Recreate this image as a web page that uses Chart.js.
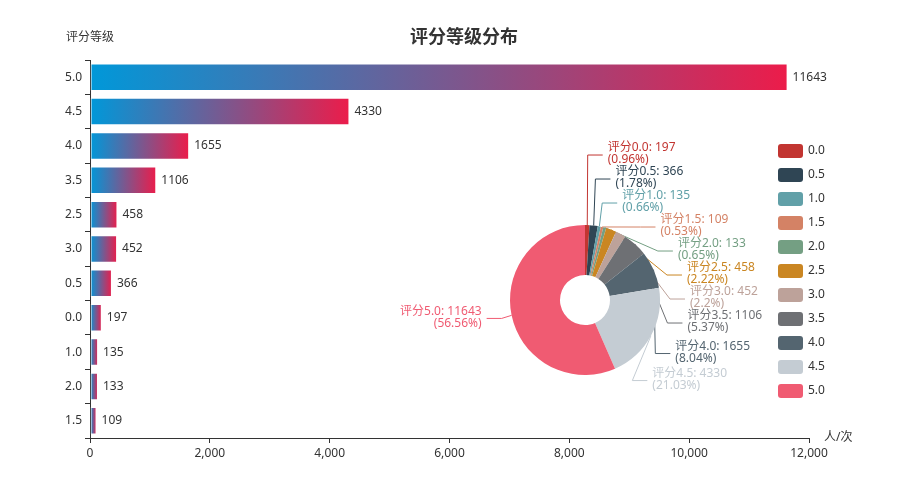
<!DOCTYPE html>
<html>
<head>
<meta charset="utf-8">
<script src="https://cdn.jsdelivr.net/npm/chart.js@4/dist/chart.umd.min.js"></script>
<style>
  html, body { margin: 0; padding: 0; background: #fff; }
  #wrap { position: relative; width: 900px; height: 500px; }
  #wrap canvas { position: absolute; left: 0; top: 0; }
</style>
</head>
<body>
<div id="wrap">
  <canvas id="barChart" width="900" height="500"></canvas>
  <canvas id="pieChart" width="900" height="500"></canvas>
</div>
<script>
// bar chart: rating levels sorted by count
var barLabels = ['5.0', '4.5', '4.0', '3.5', '2.5', '3.0', '0.5', '0.0', '1.0', '2.0', '1.5'];
var barCounts = [11643, 4330, 1655, 1106, 458, 452, 366, 197, 135, 133, 109];
// pie chart: same counts in rating order
var pieLabels = ['0.0', '0.5', '1.0', '1.5', '2.0', '2.5', '3.0', '3.5', '4.0', '4.5', '5.0'];
var pieCounts = [197, 366, 135, 109, 133, 458, 452, 1106, 1655, 4330, 11643];
var xTicks = [0, 2000, 4000, 6000, 8000, 10000, 12000];

var titleText = '评分等级分布';
var yAxisName = '评分等级';
var xAxisName = '人/次';

var pieColors = ['#c23531', '#2f4554', '#61a0a8', '#d48265', '#749f83', '#ca8622',
                 '#bda29a', '#6e7074', '#546570', '#c4ccd3', '#f05b72'];
var FONT = '"Noto Sans", "Noto Sans CJK SC", sans-serif';

Chart.defaults.font.family = FONT;
Chart.defaults.font.size = 12;
Chart.defaults.color = '#333';

// percentages that add up to 100 (largest remainder, 2 decimals)
function percents(values, precision) {
  var sum = values.reduce(function (a, b) { return a + b; }, 0);
  var digits = Math.pow(10, precision);
  var target = 100 * digits;
  var votes = values.map(function (v) { return v / sum * target; });
  var seats = votes.map(function (v) { return Math.floor(v); });
  var rem = votes.map(function (v, i) { return v - seats[i]; });
  var current = seats.reduce(function (a, b) { return a + b; }, 0);
  while (current < target) {
    var max = -1, idx = -1;
    rem.forEach(function (r, i) { if (r > max) { max = r; idx = i; } });
    seats[idx]++;
    rem[idx] = 0;
    current++;
  }
  return seats.map(function (s) { return s / digits; });
}
var piePercents = percents(pieCounts, 2);

// each bar gets its own blue -> red gradient
function barGradient(context) {
  var chart = context.chart;
  if (!chart.chartArea || context.type !== 'data') return '#0098d9';
  var x = chart.scales.x;
  var x0 = x.getPixelForValue(0);
  var x1 = x.getPixelForValue(context.raw);
  var g = chart.ctx.createLinearGradient(x0, 0, Math.max(x1, x0 + 1), 0);
  g.addColorStop(0, '#0098d9');
  g.addColorStop(1, '#ec1c4a');
  return g;
}

var barExtras = {
  id: 'barExtras',
  afterDatasetsDraw: function (chart) {
    var ctx = chart.ctx;
    var meta = chart.getDatasetMeta(0);
    ctx.save();
    ctx.font = '12px ' + FONT;
    ctx.fillStyle = '#333';
    ctx.textAlign = 'left';
    ctx.textBaseline = 'middle';
    meta.data.forEach(function (bar, i) {
      ctx.fillText(String(barCounts[i]), bar.x + 5, bar.y);
    });
    ctx.restore();
  },
  afterDraw: function (chart) {
    var ctx = chart.ctx, area = chart.chartArea;
    ctx.save();
    ctx.fillStyle = '#333';
    ctx.textBaseline = 'middle';
    ctx.textAlign = 'center';
    ctx.font = 'bold 18px ' + FONT;
    ctx.fillText(titleText, 464, 38);
    ctx.font = '12px ' + FONT;
    ctx.fillText(yAxisName, area.left, 38);
    ctx.textAlign = 'left';
    ctx.fillText(xAxisName, area.right + 15, area.bottom);
    ctx.restore();
  }
};

new Chart(document.getElementById('barChart'), {
  type: 'bar',
  data: {
    labels: barLabels,
    datasets: [{
      data: barCounts,
      backgroundColor: barGradient,
      borderColor: 'rgba(255,255,255,0.4)',
      borderWidth: 1,
      borderSkipped: false,
      barPercentage: 0.8,
      categoryPercentage: 1
    }]
  },
  options: {
    indexAxis: 'y',
    responsive: false,
    animation: false,
    events: [],
    layout: { padding: { left: 0, top: 60, right: 91, bottom: 0 } },
    plugins: { legend: { display: false }, tooltip: { enabled: false } },
    scales: {
      x: {
        min: xTicks[0],
        max: xTicks[xTicks.length - 1],
        ticks: { stepSize: xTicks[1] - xTicks[0], padding: 3, maxRotation: 0, color: '#333' },
        grid: { drawOnChartArea: false, tickLength: 5, color: '#333' },
        border: { color: '#333' },
        afterFit: function (s) { s.height = 62; }
      },
      y: {
        ticks: { padding: 3, color: '#333' },
        grid: { offset: true, drawOnChartArea: false, tickLength: 5, color: '#333' },
        border: { color: '#333' },
        afterFit: function (s) { s.width = 90; }
      }
    }
  },
  plugins: [barExtras]
});

// pie labels: push overlapping labels apart along each side
var LEN1 = 15, LEN2 = 15, DIST = 5, LINE_H = 12;

function adjustSide(list, cx, cy, r, dir, viewH) {
  list.sort(function (a, b) { return a.y - b.y; });
  function shiftUp(end, delta) {
    for (var j = end; j >= 0; j--) {
      if (list[j].y - delta < 0) break;
      list[j].y -= delta;
      if (j > 0 && list[j].y > list[j - 1].y + list[j - 1].height) break;
    }
  }
  function shiftDown(start, end, delta) {
    for (var j = start; j < end; j++) {
      if (list[j].y + delta > viewH) break;
      list[j].y += delta;
      if (j > start && j + 1 < end && list[j + 1].y > list[j].y + list[j].height) {
        shiftUp(j, delta / 2);
        return;
      }
    }
    shiftUp(end - 1, delta / 2);
  }
  function changeX(items, isDown) {
    var last = isDown ? Number.MAX_VALUE : 0;
    items.forEach(function (it) {
      var dy = Math.abs(it.y - cy);
      var R = r + LEN1 + LEN2;
      var dx = dy < r + LEN1 ? Math.sqrt(R * R - dy * dy) : Math.abs(it.x - cx);
      if (isDown && dx >= last) dx = last - 10;
      if (!isDown && dx <= last) dx = last + 10;
      it.x = cx + dx * dir;
      last = dx;
    });
  }
  var lastY = 0;
  for (var i = 0; i < list.length; i++) {
    var delta = list[i].y - lastY;
    if (delta < 0) shiftDown(i, list.length, -delta);
    lastY = list[i].y + list[i].height;
  }
  if (viewH - lastY < 0) shiftUp(list.length - 1, lastY - viewH);
  var up = [], down = [];
  list.forEach(function (it) { (it.y >= cy ? down : up).push(it); });
  changeX(up, false);
  changeX(down, true);
}

function layoutPieLabels(chart) {
  var meta = chart.getDatasetMeta(0);
  var items = [];
  var cx = 0, cy = 0, r = 0;
  meta.data.forEach(function (arc, i) {
    var p = arc.getProps(['x', 'y', 'startAngle', 'endAngle', 'outerRadius'], true);
    cx = p.x; cy = p.y; r = p.outerRadius;
    var mid = (p.startAngle + p.endAngle) / 2;
    var dx = Math.cos(mid), dy = Math.sin(mid);
    var dir = dx < 0 ? -1 : 1;
    var x1 = cx + dx * r, y1 = cy + dy * r;
    var x2 = cx + dx * (r + LEN1), y2 = cy + dy * (r + LEN1);
    var x3 = x2 + dir * LEN2;
    items.push({
      index: i, dir: dir, x: x3 + dir * DIST, y: y2, height: LINE_H * 2,
      pts: [[x1, y1], [x2, y2], [x3, y2]]
    });
  });
  var left = items.filter(function (it) { return it.x < cx; });
  var right = items.filter(function (it) { return it.x >= cx; });
  adjustSide(right, cx, cy, r, 1, chart.height);
  adjustSide(left, cx, cy, r, -1, chart.height);
  items.forEach(function (it) {
    var dist = it.pts[1][0] - it.pts[2][0];
    it.pts[2][0] = it.x < cx ? it.x + DIST : it.x - DIST;
    it.pts[1][0] = it.pts[2][0] + dist;
    it.pts[1][1] = it.pts[2][1] = it.y;
    it.align = it.x < cx ? 'right' : 'left';
  });
  return items;
}

var pieExtras = {
  id: 'pieExtras',
  beforeDatasetsDraw: function (chart) {
    var ctx = chart.ctx;
    chart.$pieLabels = layoutPieLabels(chart);
    ctx.save();
    ctx.lineWidth = 1;
    chart.$pieLabels.forEach(function (it) {
      ctx.strokeStyle = pieColors[it.index];
      ctx.beginPath();
      ctx.moveTo(it.pts[0][0], it.pts[0][1]);
      ctx.lineTo(it.pts[1][0], it.pts[1][1]);
      ctx.lineTo(it.pts[2][0], it.pts[2][1]);
      ctx.stroke();
    });
    ctx.restore();
  },
  afterDatasetsDraw: function (chart) {
    var ctx = chart.ctx;
    ctx.save();
    ctx.font = '12px ' + FONT;
    ctx.textBaseline = 'middle';
    chart.$pieLabels.forEach(function (it) {
      var i = it.index;
      ctx.fillStyle = pieColors[i];
      ctx.textAlign = it.align;
      ctx.fillText('评分' + pieLabels[i] + ': ' + pieCounts[i], it.x, it.y - LINE_H / 2 - 1);
      ctx.fillText('(' + piePercents[i] + '%)', it.x, it.y + LINE_H / 2 - 1);
    });
    ctx.restore();
  },
  afterDraw: function (chart) {
    // legend at right
    var ctx = chart.ctx;
    var lx = 778, ly = 144, w = 25, h = 14, gap = 10;
    ctx.save();
    ctx.font = '12px ' + FONT;
    ctx.textBaseline = 'middle';
    ctx.textAlign = 'left';
    pieLabels.forEach(function (label, i) {
      var y = ly + i * (h + gap);
      ctx.fillStyle = pieColors[i];
      ctx.beginPath();
      ctx.roundRect(lx, y, w, h, 3);
      ctx.fill();
      ctx.fillStyle = '#333';
      ctx.fillText(label, lx + w + 5, y + h / 2);
    });
    ctx.restore();
  }
};

new Chart(document.getElementById('pieChart'), {
  type: 'doughnut',
  data: {
    labels: pieLabels,
    datasets: [{ data: pieCounts, backgroundColor: pieColors, borderWidth: 0 }]
  },
  options: {
    responsive: false,
    animation: false,
    events: [],
    cutout: '33.33%',
    layout: { padding: { left: 510, right: 240, top: 225, bottom: 125 } },
    plugins: { legend: { display: false }, tooltip: { enabled: false } }
  },
  plugins: [pieExtras]
});
</script>
</body>
</html>
